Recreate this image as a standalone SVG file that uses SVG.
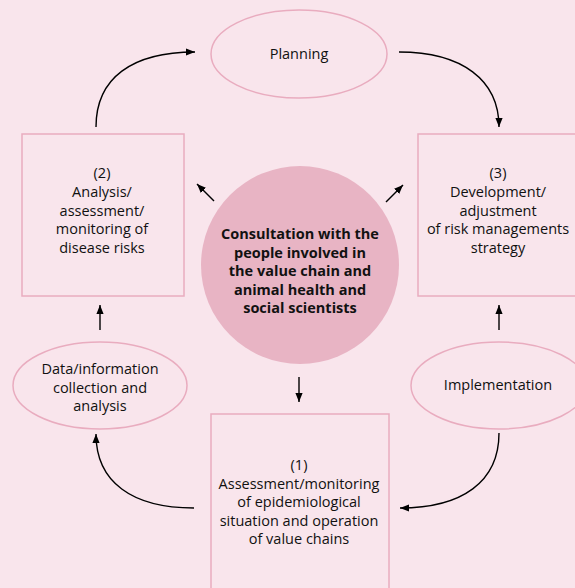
<svg xmlns="http://www.w3.org/2000/svg" width="575" height="588" viewBox="0 0 575 588">
<defs>
<marker id="ah" viewBox="0 0 10 10" refX="10" refY="5" markerWidth="9" markerHeight="9" markerUnits="userSpaceOnUse" orient="auto">
<path d="M0,1 L10,5 L0,9 z" fill="#000"/>
</marker>
<style>
.box{fill:none;stroke:#e9acbf;stroke-width:1.5}
.ell{fill:none;stroke:#e9acbf;stroke-width:1.5}
.t{font-family:"Open Sans","Liberation Sans",sans-serif;font-size:14.5px;fill:#111;text-anchor:middle}
.b{font-weight:bold}
.c{fill:none;stroke:#000;stroke-width:1.4;marker-end:url(#ah)}
</style>
</defs>
<rect x="0" y="0" width="575" height="588" fill="#f9e5ec"/>
<g id="planning">
<ellipse class="ell" cx="299" cy="54" rx="88" ry="44"/>
<text class="t" x="299" y="59">Planning</text>
</g>
<g id="box2">
<rect class="box" x="22" y="134" width="162" height="162"/>
<text class="t" x="102"><tspan x="102" y="178">(2)</tspan><tspan x="102" y="197">Analysis/</tspan><tspan x="102" y="215.5">assessment/</tspan><tspan x="102" y="234">monitoring of</tspan><tspan x="102" y="252.5">disease risks</tspan></text>
</g>
<g id="box3">
<rect class="box" x="418" y="134" width="162" height="162"/>
<text class="t" x="498"><tspan x="498" y="178">(3)</tspan><tspan x="498" y="197">Development/</tspan><tspan x="498" y="215.5">adjustment</tspan><tspan x="498" y="234">of risk managements</tspan><tspan x="498" y="252.5">strategy</tspan></text>
</g>
<g id="center">
<circle cx="300" cy="265" r="99" fill="#e8b4c4"/>
<text class="t b" x="300"><tspan x="300" y="239">Consultation with the</tspan><tspan x="300" y="257.5">people involved in</tspan><tspan x="300" y="276">the value chain and</tspan><tspan x="300" y="294.5">animal health and</tspan><tspan x="300" y="313">social scientists</tspan></text>
</g>
<g id="data">
<ellipse class="ell" cx="100" cy="385.5" rx="87" ry="43.5"/>
<text class="t" x="100"><tspan x="100" y="374">Data/information</tspan><tspan x="100" y="392.5">collection and</tspan><tspan x="100" y="411">analysis</tspan></text>
</g>
<g id="implementation">
<ellipse class="ell" cx="499" cy="385.5" rx="88" ry="43.5"/>
<text class="t" x="498" y="390">Implementation</text>
</g>
<g id="box1">
<rect class="box" x="211" y="414" width="178" height="190"/>
<text class="t" x="299"><tspan x="299" y="470">(1)</tspan><tspan x="299" y="488.5">Assessment/monitoring</tspan><tspan x="299" y="507">of epidemiological</tspan><tspan x="299" y="525.5">situation and operation</tspan><tspan x="299" y="544">of value chains</tspan></text>
</g>
<g id="connectors">
<path class="c" d="M96,127 C96,78 132,52 195,52"/>
<path class="c" d="M399,52 C462,52 499,80 499,127"/>
<path class="c" d="M214,201 L197,184"/>
<path class="c" d="M386,202 L403,185"/>
<path class="c" d="M100,330 L100,305"/>
<path class="c" d="M499,330 L499,305"/>
<path class="c" d="M299,377 L299,402"/>
<path class="c" d="M194,508 C132,508 96,482 96,434"/>
<path class="c" d="M499,433 C499,482 462,508 400,508"/>
</g>
</svg>
